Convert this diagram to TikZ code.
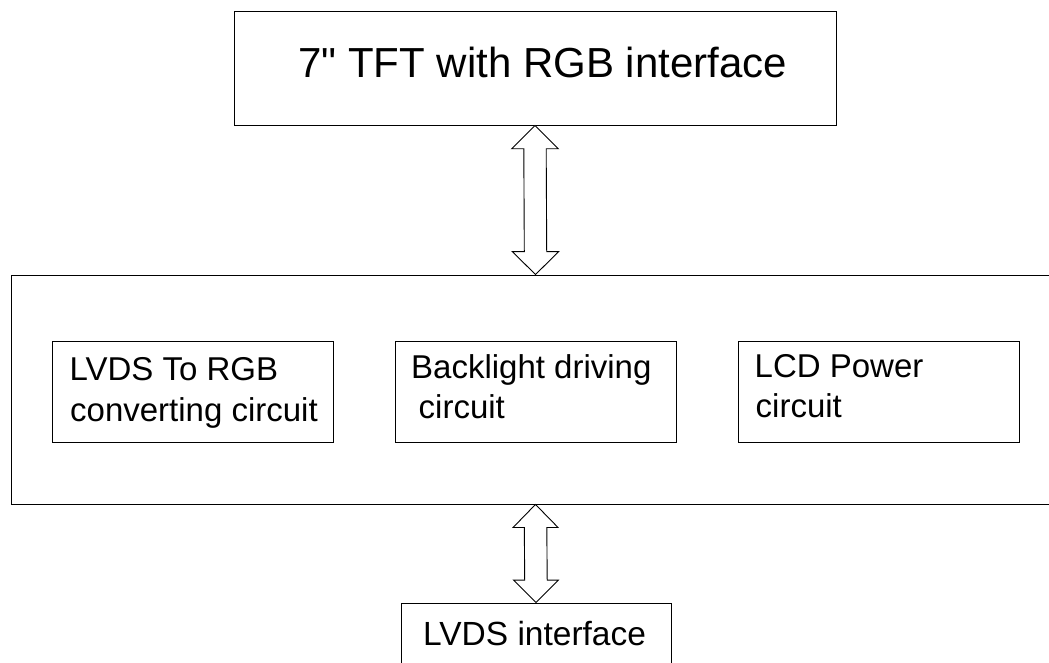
\documentclass[tikz,border=0pt]{standalone}
\usepackage{fontspec}
\setmainfont{Liberation Sans}[Ligatures=TeXOff]
\usetikzlibrary{calc}
\begin{document}
\begin{tikzpicture}[x=1pt,y=-1pt,
  box/.style={draw, line width=0.9pt, inner sep=0pt, rectangle},
  lbl/.style={anchor=base west, inner sep=0pt, font=\fontsize{33}{41.5}\selectfont},
  barrow/.style={draw, line width=0.9pt, fill=white, line join=miter}]
\useasboundingbox (0,0) rectangle (1049,663);
% boxes
\node[box, minimum width=602pt, minimum height=114pt] (tft) at (535,68) {};
\node[box, minimum width=1049pt, minimum height=229pt] (main) at (535.5,389.5) {};
\node[box, minimum width=280.6pt, minimum height=101pt] (c1) at (193,391.5) {};
\node[box, minimum width=281pt, minimum height=101pt] (c2) at (536.2,392) {};
\node[box, minimum width=280.7pt, minimum height=101pt] (c3) at (878.7,392) {};
\node[box, minimum width=270pt, minimum height=77pt] (lvds) at (536,641.5) {};
% texts
\node[lbl, font=\fontsize{42}{48}\selectfont] (t0) at (298,78) {7" TFT with RGB interface};
\node[lbl] (t1a) at (69.5,380) {LVDS To RGB};
\node[lbl] (t1b) at (70,421.7) {converting circuit};
\node[lbl] (t2a) at (411,378) {Backlight driving};
\node[lbl] (t2b) at (418.5,418) {circuit};
\node[lbl] (t3a) at (754.5,377) {LCD Power};
\node[lbl] (t3b) at (755.5,417) {circuit};
\node[lbl, font=\fontsize{33.5}{40}\selectfont] (t4) at (423,645) {LVDS interface};
% double block arrows
\draw[barrow] (tft.south) -- ++(23.2,23.3) -- ++(-12,0)
  -- ($(main.north)+(11.2,-23)$) -- ++(12,0) -- (main.north)
  -- ++(-23.2,-23) -- ++(12,0)
  -- ($(tft.south)+(-11.2,23.3)$) -- ++(-12,0) -- cycle;
\draw[barrow] (main.south) -- ++(22.5,23) -- ++(-11.2,0)
  -- ($(lvds.north)+(11.2,-22.5)$) -- ++(11.2,0) -- (lvds.north)
  -- ++(-22.5,-22.5) -- ++(11.2,0)
  -- ($(main.south)+(-11.2,23)$) -- ++(-11.2,0) -- cycle;
\end{tikzpicture}
\end{document}
